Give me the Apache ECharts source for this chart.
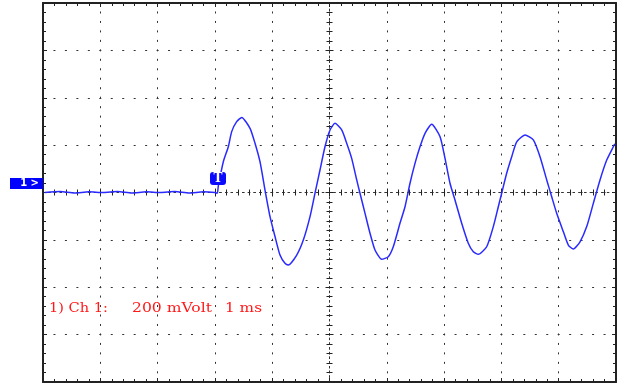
<!DOCTYPE html>
<html>
<head>
<meta charset="utf-8">
<title>Ch 1</title>
<script src="https://cdn.jsdelivr.net/npm/echarts@6/dist/echarts.min.js"></script>
<style>
    html, body { margin: 0; padding: 0; background: #fff; }
    #main { width: 620px; height: 385px; }
</style>
</head>
<body>
<div id="main"></div>
<script>
    // 1 ms / div, 200 mV / div  (10 x 8 divisions)
    const timeRange = [0, 10]
    const timeStep = 1
    const voltRange = [-800, 800]
    const voltStep = 200

    // trace (ms)
    const timeMs = [
        0.03, 0.3, 0.55, 0.8, 1.05, 1.3, 1.55, 1.8, 2.05, 2.3, 2.55, 2.8, 3.0,
        3.042, 3.059, 3.147, 3.234, 3.293, 3.380, 3.468, 3.613, 3.700, 3.787, 3.874,
        3.962, 4.049, 4.136, 4.223, 4.281, 4.428, 4.543, 4.660, 4.747,
        4.834, 4.921, 5.009, 5.096, 5.213, 5.300, 5.387, 5.475, 5.532,
        5.620, 5.707, 5.794, 5.911, 6.026, 6.113, 6.230, 6.318,
        6.405, 6.492, 6.579, 6.667, 6.783, 6.928, 7.016, 7.103,
        7.190, 7.307, 7.422, 7.510, 7.597, 7.743, 7.859, 7.946, 8.005,
        8.092, 8.180, 8.267, 8.412, 8.557, 8.674, 8.791,
        8.878, 8.965, 9.080, 9.168, 9.255, 9.372, 9.489, 9.604, 9.721, 9.838, 9.953, 9.98
    ]
    // (mV)
    const voltMv = [
        0, 4, -2, 3, 0, 4, -2, 3, 0, 4, -2, 3, 0,
        -3, 27, 130, 193, 257, 299, 317, 271, 208, 130, 11,
        -102, -186, -264, -299, -306, -264, -201, -102, -3,
        95, 193, 264, 292, 264, 208, 144, 53, -3,
        -88, -172, -243, -282, -271, -229, -130, -60,
        39, 123, 193, 250, 288, 236, 144, 39,
        -32, -130, -214, -250, -261, -229, -144, -60, -3,
        81, 151, 214, 243, 222, 151, 53,
        -18, -88, -165, -222, -239, -208, -144, -46, 53, 137, 193, 205
    ]

    const channelLabel = ['1) Ch 1:', '200 mVolt', '1 ms']

    const traceColor = '#2a2aff'
    const gridColor = '#333'
    const frameColor = '#222'
    const red = '#ff1a1a'

    const chart = echarts.init(document.getElementById('main'))

    // axis helpers
    function xAx(position, offset, inside, line, split) {
        return {
            type: 'value', min: timeRange[0], max: timeRange[1], interval: timeStep,
            position: position, offset: offset,
            axisLine: { show: true, onZero: false, lineStyle: line },
            axisTick: { show: true, inside: inside, length: 4, lineStyle: { color: frameColor, width: 1 } },
            minorTick: { show: true, splitNumber: 5, length: 3, lineStyle: { color: frameColor, width: 1 } },
            axisLabel: { show: false },
            splitLine: split ? {
                show: true,
                lineStyle: { color: gridColor, width: 1, type: [2, 7.47], dashOffset: 1 }
            } : { show: false }
        }
    }
    function yAx(position, offset, inside, line, split) {
        return {
            type: 'value', min: voltRange[0], max: voltRange[1], interval: voltStep,
            position: position, offset: offset,
            axisLine: { show: true, onZero: false, lineStyle: line },
            axisTick: { show: true, inside: inside, length: 4, lineStyle: { color: frameColor, width: 1 } },
            minorTick: { show: true, splitNumber: 5, length: 3, lineStyle: { color: frameColor, width: 1 } },
            axisLabel: { show: false },
            splitLine: split ? {
                show: true,
                lineStyle: { color: gridColor, width: 1, type: [2, 9.46], dashOffset: 1 }
            } : { show: false }
        }
    }

    const border = { color: frameColor, width: 2 }
    const centerH = { color: gridColor, width: 1, type: [1.5, 4.2] }
    const centerV = { color: gridColor, width: 1, type: [1.5, 3.2] }

    // red caption, stretched wide like the scope font
    const ctx = document.createElement('canvas').getContext('2d')
    const capFont = '12px "DejaVu Serif"'
    ctx.font = capFont
    const spans = [[49, 108], [132, 212], [225, 262]]
    const caption = channelLabel.map((s, i) => {
        const w = ctx.measureText(s).width
        return {
            type: 'text', x: spans[i][0], y: 309, z: 100,
            scaleX: (spans[i][1] - spans[i][0]) / w,
            style: { text: s, font: capFont, fill: red, verticalAlign: 'middle', textVerticalAlign: 'middle' }
        }
    })

    const option = {
        backgroundColor: '#fff',
        animation: false,
        grid: { left: 43, right: 4, top: 3, bottom: 3, containLabel: false },
        xAxis: [
            xAx('bottom', 0, true, border, true),
            xAx('top', 0, true, border, false),
            xAx('bottom', -189.5, true, centerH, false),
            xAx('bottom', -189.5, false, centerH, false)
        ],
        yAxis: [
            yAx('left', 0, true, border, true),
            yAx('right', 0, true, border, false),
            yAx('left', -286.5, true, centerV, false),
            yAx('left', -286.5, false, centerV, false)
        ],
        series: [{
            type: 'line',
            xAxisIndex: 0,
            yAxisIndex: 0,
            data: timeMs.map((t, i) => [t, voltMv[i]]),
            showSymbol: false,
            smooth: 0.2,
            lineStyle: { color: traceColor, width: 1.5 },
            z: 5
        }],
        graphic: [
            // channel 1 ground marker
            { type: 'rect', shape: { x: 10, y: 178, width: 33, height: 11 }, style: { fill: '#0000ff' }, z: 100 },
            {
                type: 'text', x: 39, y: 183.5, z: 101,
                style: { text: '1 >', font: 'bold 10px "DejaVu Sans"', fill: '#fff',
                    align: 'right', textAlign: 'right', verticalAlign: 'middle', textVerticalAlign: 'middle' }
            },
            // trigger marker
            { type: 'rect', shape: { x: 210, y: 172, width: 16, height: 13, r: 3 }, style: { fill: '#0a0aff' }, z: 100 },
            {
                type: 'text', x: 218, y: 178.5, z: 101,
                style: { text: 'T', font: 'bold 12px "DejaVu Serif"', fill: '#fff',
                    align: 'center', textAlign: 'center', verticalAlign: 'middle', textVerticalAlign: 'middle' }
            }
        ].concat(caption)
    }
    chart.setOption(option)
</script>
</body>
</html>
